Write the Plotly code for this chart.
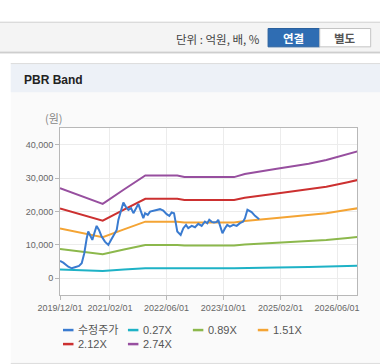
import plotly.graph_objects as go

# ---------------- data ----------------
band_dates = ["2019-12-01", "2020-12-01", "2021-06-01", "2021-12-01", "2022-09-01",
              "2022-11-01", "2024-01-01", "2024-04-01", "2025-01-01", "2025-10-01",
              "2026-03-01", "2026-09-01", "2026-12-01"]
band_274 = [27000, 22300, 26600, 30780, 30780, 30300, 30300, 31200, 32800, 34300, 35400, 37200, 38100]
band_212 = [20890, 17250, 20580, 23820, 23820, 23440, 23440, 24140, 25380, 26540, 27390, 28780, 29480]
band_151 = [14880, 12290, 14660, 16960, 16960, 16700, 16700, 17190, 18080, 18900, 19510, 20500, 21000]
band_089 = [8770, 7240, 8640, 10000, 10000, 9840, 9840, 10130, 10650, 11140, 11500, 12080, 12380]
band_027 = [2660, 2200, 2620, 3030, 3030, 2980, 2980, 3070, 3230, 3380, 3490, 3660, 3750]

price_dates = ["2019-12-01", "2019-12-29", "2020-02-10", "2020-03-10", "2020-04-07", "2020-05-12",
               "2020-06-04", "2020-06-26", "2020-07-17", "2020-07-30", "2020-08-20", "2020-09-03",
               "2020-09-20", "2020-10-10", "2020-10-30", "2020-11-22", "2020-12-20", "2021-01-18",
               "2021-02-10", "2021-03-10", "2021-03-31", "2021-04-14", "2021-05-07", "2021-05-27",
               "2021-06-16", "2021-07-09", "2021-08-01", "2021-08-21", "2021-09-13", "2021-10-02",
               "2021-10-25", "2021-11-14", "2021-11-29", "2021-12-22", "2022-01-11", "2022-02-08",
               "2022-04-06", "2022-05-04", "2022-06-02", "2022-06-25", "2022-07-15", "2022-08-04",
               "2022-08-21", "2022-09-01", "2022-09-30", "2022-10-23", "2022-11-15", "2022-12-04",
               "2023-01-03", "2023-01-31", "2023-02-28", "2023-03-29", "2023-04-26", "2023-05-16",
               "2023-06-02", "2023-06-23", "2023-07-12", "2023-08-05", "2023-08-18", "2023-09-02",
               "2023-09-23", "2023-10-15", "2023-11-03", "2023-11-26", "2023-12-25", "2024-01-23",
               "2024-02-20", "2024-03-19", "2024-04-03", "2024-04-24", "2024-05-30", "2024-06-28",
               "2024-08-03"]
price_values = [5190, 4680, 3480, 3000, 3300, 3690,
                4500, 7500, 12000, 14000, 12500, 11490,
                13500, 15690, 14490, 12490, 10980, 10000,
                11490, 13000, 14490, 17490, 20490, 22680,
                21480, 20490, 21000, 19500, 21000, 22290,
                19980, 18000, 19500, 19000, 19980, 20280,
                20700, 20300, 19200, 18700, 19700, 19500,
                16500, 14000, 13000, 15000, 16000, 15000,
                15700, 15300, 16300, 15700, 17000, 16500,
                17500, 16900, 16700, 16900, 17500, 15500,
                13500, 15000, 16000, 15500, 16000, 15700,
                16500, 17000, 18000, 20500, 19800, 18700,
                17700]

tick_dates = ["2019-12-01", "2021-02-01", "2022-06-01", "2023-10-01", "2025-02-01", "2026-06-01"]
tick_labels = ["2019/12/01", "2021/02/01", "2022/06/01", "2023/10/01", "2025/02/01", "2026/06/01"]
y_ticks = [0, 10000, 20000, 30000, 40000]

series_names = ["수정주가", "0.27X", "0.89X", "1.51X", "2.12X", "2.74X"]
series_colors = ["#3a7bd0", "#1eb2c6", "#8cb84c", "#f4a434", "#cc3030", "#974f9f"]

# ---------------- geometry helpers ----------------
FW, FH = 380, 364
L, R, T, B = 60, 357.3, 128.3, 295
W, H = R - L, B - T


def px(x):
    return (x - L) / W


def py(y):
    return (B - y) / H


fig = go.Figure()

band_series = [band_027, band_089, band_151, band_212, band_274]
for i, vals in enumerate(band_series):
    fig.add_trace(go.Scatter(x=band_dates, y=vals, mode="lines", name=series_names[i + 1],
                             line=dict(color=series_colors[i + 1], width=2),
                             hoverinfo="skip", showlegend=False))
fig.add_trace(go.Scatter(x=price_dates, y=price_values, mode="lines", name=series_names[0],
                         line=dict(color=series_colors[0], width=2),
                         hoverinfo="skip", showlegend=False))

shapes = []


def rect(x0, y0, x1, y1, fill, line=None, lw=0):
    shapes.append(dict(type="rect", xref="paper", yref="paper", layer="below",
                       x0=px(x0), x1=px(x1), y0=py(y1), y1=py(y0),
                       fillcolor=fill, line=dict(color=line or fill, width=lw)))


def hline(x0, x1, y, color, width=1, layer="below"):
    shapes.append(dict(type="line", xref="paper", yref="paper", layer=layer,
                       x0=px(x0), x1=px(x1), y0=py(y), y1=py(y),
                       line=dict(color=color, width=width)))


# top toolbar
rect(-5, 22.7, 390, 52.7, "#f4f4f4")
hline(-5, 390, 22.7, "#cfcfcf")
hline(-5, 390, 52.7, "#b9b9b9")
hline(-5, 390, 53.8, "#e6e6e6")
# buttons
rect(268.3, 29, 320, 47.3, "#2f6db3", "#295f9c", 1)
rect(320, 29, 371, 47.3, "#ffffff", "#c4c4c4", 1)
# panel
rect(10.7, 64, 390, 363.3, "#fafafa")
rect(10.7, 64, 390, 92.7, "#edf1f7")
hline(10.7, 390, 64, "#dcdcdc")
hline(10.7, 390, 363.3, "#dcdcdc")
# plot area background
rect(L, T, R, B, "#ffffff")

annotations = []


def text(x, y, s, size=11, color="#444", xanchor="left", family="Noto Sans CJK KR", bold=False):
    annotations.append(dict(xref="paper", yref="paper", x=px(x), y=py(y), text=("<b>%s</b>" % s) if bold else s,
                            showarrow=False, xanchor=xanchor, yanchor="middle",
                            font=dict(size=size, color=color, family=family)))


text(262, 39.3, "단위 : 억원, 배, %", 11.5, "#444", "right")
text(294.2, 38.3, "연결", 11.5, "#ffffff", "center", bold=True)
text(345.5, 38.3, "별도", 11.5, "#555555", "center", bold=True)
text(22, 80.7, "PBR Band", 12, "#222222", "left", family="Liberation Sans, Noto Sans CJK KR", bold=True)
text(54, 118.3, "(원)", 11, "#888888", "center")

# manual legend
leg_pos = [(63, 330), (128, 330), (193, 330), (258, 330), (63, 344), (128, 344)]
for (lx, ly), name, col in zip(leg_pos, series_names, series_colors):
    hline(lx, lx + 10.5, ly, col, 2.5, layer="above")
    text(lx + 13, ly, name, 11, "#555555", "left", family="Liberation Sans, Noto Sans CJK KR")

fig.update_layout(
    width=FW, height=FH,
    margin=dict(l=L, r=FW - R, t=T, b=FH - B, pad=0),
    paper_bgcolor="#ffffff",
    plot_bgcolor="rgba(0,0,0,0)",
    showlegend=False,
    shapes=shapes,
    annotations=annotations,
    xaxis=dict(type="date", range=["2019-12-01", "2026-11-19"],
               tickvals=tick_dates, ticktext=tick_labels,
               tickfont=dict(size=9, color="#666666", family="Liberation Sans"),
               showgrid=True, gridcolor="#ececec", gridwidth=1,
               showline=True, linecolor="#b8b8b8", linewidth=1, mirror=True,
               ticks="outside", ticklen=4, tickcolor="#b8b8b8", zeroline=False),
    yaxis=dict(range=[-5000, 45000], tickvals=y_ticks, tickformat=",",
               tickfont=dict(size=9, color="#666666", family="Liberation Sans"),
               showgrid=True, gridcolor="#ececec", gridwidth=1,
               showline=True, linecolor="#b8b8b8", linewidth=1, mirror=True,
               ticks="outside", ticklen=4, tickcolor="#b8b8b8", zeroline=False),
)

fig.write_html("out.html", config={"displayModeBar": False},
               post_script="document.body.style.margin='0';document.body.style.overflow='hidden';")
